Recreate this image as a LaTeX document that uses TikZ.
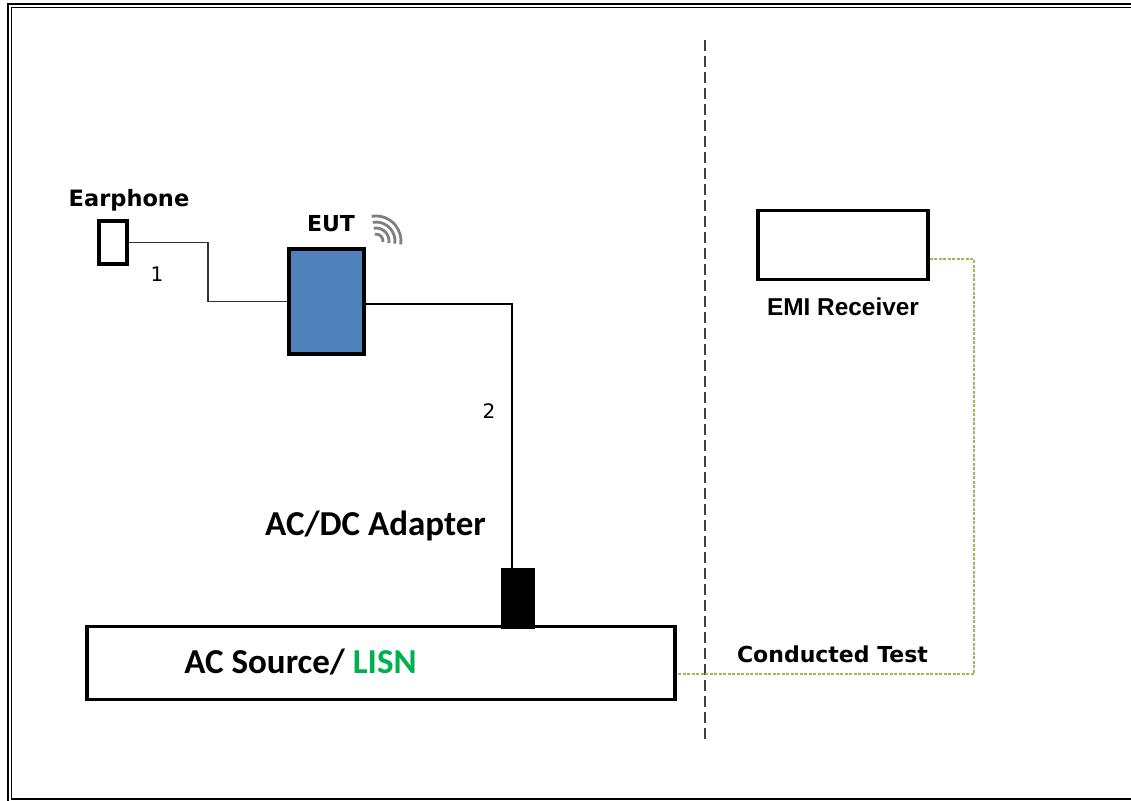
\documentclass[tikz,border=0pt]{standalone}
\usepackage{fontspec}
\setmainfont{Carlito}
\newfontfamily\tah{DejaVu Sans}
\newfontfamily\arl{Liberation Sans}
\usetikzlibrary{calc}
\definecolor{eutblue}{HTML}{4F81BD}
\definecolor{lisngreen}{HTML}{00B050}
\definecolor{dotgreen}{HTML}{9BBB59}
\definecolor{wifigray}{HTML}{7F7F7F}
\tikzset{
  box/.style={draw=black, line width=3.5pt, rectangle, inner sep=0pt},
  wire/.style={draw=black, line width=1.5pt},
  lbl/.style={inner sep=0pt, anchor=base},
  divider/.style={draw=black!75, line width=1.8pt, dash pattern=on 11pt off 5pt},
  conducted/.style={draw=dotgreen, line width=2pt, dash pattern=on 3pt off 1.5pt},
}
\begin{document}
\begin{tikzpicture}[x=1pt,y=-1pt]
\useasboundingbox (0,0) rectangle (1131,800);
\clip (0,0) rectangle (1131,800);
% frame
\draw[line width=2.4pt] (8,4) rectangle (1150,820);
\draw[line width=1.6pt] (11.5,7.5) rectangle (1140,799);

% nodes
\node[box, minimum width=28, minimum height=43] (ear) at (113,242.5) {};
\node[box, fill=eutblue, minimum width=75, minimum height=105] (eut) at (326.5,301.5) {};
\node[box, fill=black, line width=1pt, minimum width=33, minimum height=60] (adapter) at (517.5,598) {};
\node[box, minimum width=588, minimum height=73] (ac) at (381,663) {};
\node[box, minimum width=170, minimum height=69] (emi) at (843,245) {};

% labels
\node[lbl] (earlbl) at (129,206) {\tah\bfseries\fontsize{22.5}{26}\selectfont Earphone};
\node[lbl] (eutlbl) at (331,231) {\tah\bfseries\fontsize{22}{26}\selectfont EUT};
\node[lbl] (one) at (157,281) {\tah\fontsize{20}{24}\selectfont 1};
\node[lbl] (two) at (489,418) {\tah\fontsize{20}{24}\selectfont 2};
\node[lbl] (adlbl) at (375.5,535) {\bfseries\fontsize{35}{40}\selectfont AC/DC Adapter};
\node[lbl] (aclbl) at (300.5,673) {\bfseries\fontsize{35}{40}\selectfont AC Source/ \textcolor{lisngreen}{LISN}};
\node[lbl] (ctlbl) at (832.5,662) {\tah\bfseries\fontsize{22}{26}\selectfont Conducted Test};
\node[lbl] (emilbl) at (843,315) {\arl\bfseries\fontsize{24.4}{28}\selectfont EMI Receiver};

% wifi symbol
\foreach \r in {7,13,19,25}{
  \draw[wifigray, line width=2.8pt] (376,241) ++(-100:\r) arc[start angle=-100, end angle=8, radius=\r];
}

% cables
\draw[wire, draw=black!80] (ear.east) -| ($(ear.east)!0.5!(eut.west)$) |- (eut.west);
\draw[wire] ([yshift=-2.5pt]eut.east) -| ([xshift=-5.5pt]adapter.north);

% divider
\coordinate (dtop) at (705,40);
\coordinate (dbot) at (705,740);
\draw[divider] (dtop) -- (dbot);

% conducted test line
\draw[conducted] ([yshift=-14pt]emi.east) -- ++(44,0) |- ([yshift=-11pt]ac.east);
\end{tikzpicture}
\end{document}
